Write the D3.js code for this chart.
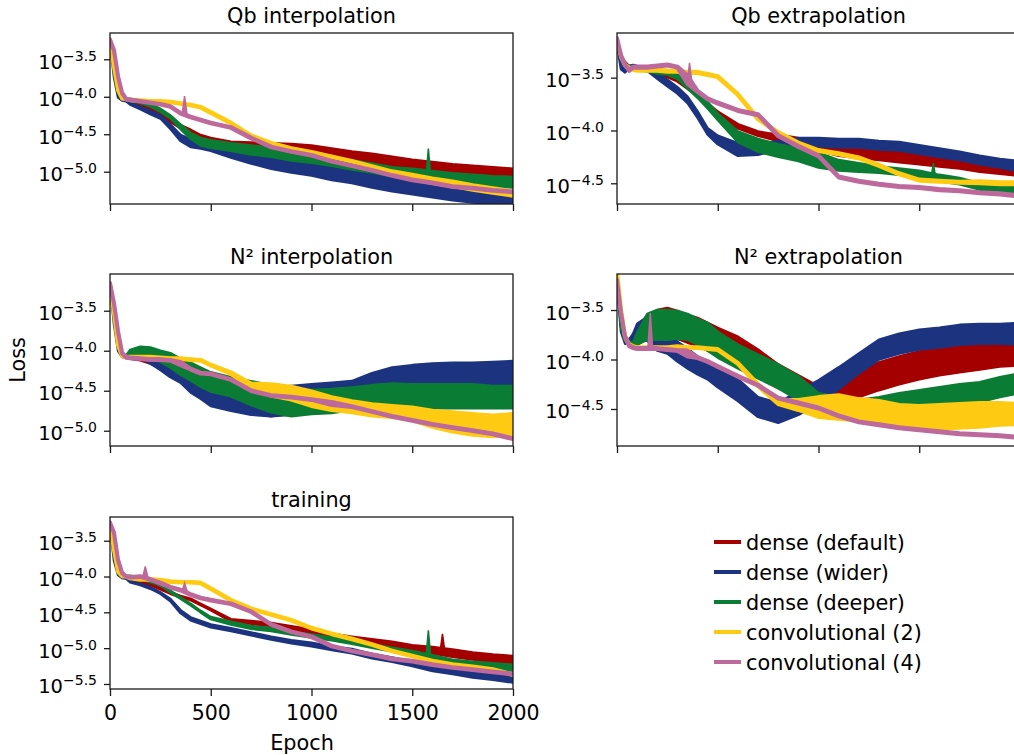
<!DOCTYPE html>
<html>
<head>
<meta charset="utf-8">
<script src="https://cdn.jsdelivr.net/npm/d3@7"></script>
<style>
  body { margin: 0; background: #fff; }
  text { font-family: "DejaVu Sans", sans-serif; fill: #000; }
</style>
</head>
<body>
<div id="chart"></div>
<script>
const epochs = [0, 20, 40, 60, 80, 100, 150, 200, 250, 300, 350, 400, 450, 500, 600, 700, 800, 900, 1000, 1100, 1200, 1300, 1400, 1500, 1600, 1700, 1800, 1900, 2000];
const seriesNames = ["dense (default)", "dense (wider)", "dense (deeper)", "convolutional (2)", "convolutional (4)"];
const panelTitles = ["Qb interpolation", "Qb extrapolation", "N\u00b2 interpolation", "N\u00b2 extrapolation", "training"];
const xTicks = [0, 500, 1000, 1500, 2000];
const yTicks = [
  [-3.5, -4.0, -4.5, -5.0],
  [-3.5, -4.0, -4.5],
  [-3.5, -4.0, -4.5, -5.0],
  [-3.5, -4.0, -4.5],
  [-3.5, -4.0, -4.5, -5.0, -5.5]
];

// log10(loss): middle of each band, order = seriesNames
const qbInterpLog = [
  [-3.24,-3.60,-3.91,-4.02,-4.04,-4.05,-4.10,-4.15,-4.24,-4.32,-4.40,-4.46,-4.53,-4.58,-4.64,-4.67,-4.69,-4.70,-4.73,-4.76,-4.80,-4.83,-4.87,-4.91,-4.94,-4.97,-4.99,-5.01,-5.03],
  [-3.26,-3.73,-4.00,-4.04,-4.05,-4.09,-4.15,-4.21,-4.27,-4.40,-4.55,-4.62,-4.64,-4.67,-4.75,-4.82,-4.89,-4.93,-4.97,-5.02,-5.06,-5.12,-5.16,-5.20,-5.24,-5.28,-5.31,-5.33,-5.35],
  [-3.24,-3.64,-3.93,-4.02,-4.03,-4.04,-4.07,-4.11,-4.18,-4.27,-4.40,-4.52,-4.60,-4.63,-4.67,-4.71,-4.74,-4.79,-4.82,-4.86,-4.91,-4.95,-5.00,-5.03,-5.06,-5.09,-5.11,-5.13,-5.14],
  [-3.24,-3.60,-3.91,-4.02,-4.03,-4.04,-4.05,-4.06,-4.06,-4.07,-4.09,-4.11,-4.14,-4.21,-4.35,-4.52,-4.62,-4.69,-4.74,-4.80,-4.86,-4.93,-5.00,-5.06,-5.12,-5.16,-5.21,-5.25,-5.29],
  [-3.24,-3.38,-3.73,-3.95,-4.03,-4.04,-4.06,-4.08,-4.10,-4.13,-4.22,-4.27,-4.31,-4.35,-4.41,-4.55,-4.67,-4.73,-4.78,-4.86,-4.92,-4.98,-5.05,-5.11,-5.15,-5.20,-5.22,-5.25,-5.27]
];
// half width of the noisy band, in decades
const qbInterpSpread = [
  [0.01,0.01,0.01,0.01,0.01,0.015,0.015,0.015,0.015,0.015,0.02,0.02,0.02,0.03,0.04,0.06,0.07,0.07,0.08,0.07,0.07,0.07,0.07,0.07,0.07,0.07,0.07,0.07,0.07],
  [0.01,0.01,0.01,0.01,0.01,0.015,0.015,0.02,0.02,0.03,0.04,0.05,0.05,0.05,0.06,0.07,0.07,0.08,0.08,0.09,0.09,0.09,0.1,0.1,0.1,0.1,0.1,0.1,0.1],
  [0.01,0.01,0.01,0.01,0.01,0.015,0.015,0.02,0.02,0.02,0.03,0.04,0.05,0.05,0.05,0.06,0.06,0.06,0.06,0.06,0.06,0.06,0.06,0.07,0.07,0.07,0.07,0.07,0.07],
  [0.005,0.005,0.005,0.005,0.005,0.005,0.005,0.005,0.005,0.005,0.005,0.005,0.005,0.005,0.005,0.005,0.005,0.005,0.005,0.005,0.005,0.005,0.005,0.02,0.03,0.03,0.03,0.03,0.03],
  [0.005,0.005,0.005,0.005,0.005,0.005,0.005,0.005,0.005,0.005,0.005,0.005,0.005,0.005,0.005,0.005,0.005,0.005,0.005,0.005,0.005,0.005,0.005,0.005,0.005,0.005,0.005,0.005,0.005]
];

const qbExtrapLog = [
  [-3.14,-3.30,-3.36,-3.40,-3.40,-3.41,-3.42,-3.44,-3.48,-3.52,-3.59,-3.66,-3.76,-3.84,-3.96,-4.03,-4.07,-4.11,-4.14,-4.19,-4.21,-4.23,-4.25,-4.27,-4.29,-4.31,-4.34,-4.36,-4.38],
  [-3.18,-3.40,-3.43,-3.40,-3.39,-3.40,-3.42,-3.48,-3.55,-3.62,-3.71,-3.85,-4.01,-4.09,-4.18,-4.18,-4.14,-4.11,-4.11,-4.12,-4.12,-4.14,-4.15,-4.18,-4.21,-4.24,-4.28,-4.31,-4.34],
  [-3.14,-3.30,-3.38,-3.40,-3.41,-3.42,-3.43,-3.44,-3.45,-3.49,-3.57,-3.66,-3.76,-3.87,-4.06,-4.14,-4.19,-4.23,-4.28,-4.33,-4.35,-4.37,-4.39,-4.41,-4.45,-4.48,-4.53,-4.55,-4.57],
  [-3.14,-3.30,-3.38,-3.41,-3.42,-3.43,-3.43,-3.43,-3.44,-3.44,-3.45,-3.45,-3.47,-3.49,-3.66,-3.89,-4.02,-4.12,-4.19,-4.22,-4.26,-4.33,-4.41,-4.47,-4.48,-4.49,-4.49,-4.50,-4.50],
  [-3.13,-3.29,-3.38,-3.43,-3.40,-3.40,-3.40,-3.39,-3.38,-3.40,-3.52,-3.63,-3.70,-3.74,-3.81,-3.85,-4.05,-4.15,-4.24,-4.44,-4.48,-4.51,-4.53,-4.54,-4.56,-4.57,-4.59,-4.60,-4.62]
];
const qbExtrapSpread = [
  [0.01,0.01,0.01,0.01,0.01,0.01,0.01,0.015,0.015,0.015,0.015,0.015,0.015,0.02,0.02,0.02,0.03,0.04,0.05,0.05,0.05,0.05,0.05,0.05,0.05,0.05,0.05,0.05,0.05],
  [0.01,0.02,0.02,0.01,0.01,0.01,0.015,0.03,0.03,0.03,0.03,0.03,0.03,0.04,0.06,0.05,0.04,0.04,0.04,0.04,0.04,0.04,0.04,0.04,0.04,0.04,0.04,0.04,0.05],
  [0.01,0.01,0.01,0.01,0.01,0.01,0.01,0.02,0.02,0.02,0.03,0.03,0.03,0.03,0.05,0.06,0.06,0.06,0.07,0.05,0.04,0.03,0.03,0.03,0.03,0.03,0.03,0.03,0.04],
  [0.005,0.005,0.005,0.005,0.005,0.005,0.005,0.005,0.005,0.005,0.005,0.005,0.005,0.005,0.005,0.005,0.005,0.005,0.005,0.005,0.005,0.005,0.005,0.005,0.005,0.005,0.01,0.01,0.01],
  [0.005,0.005,0.005,0.005,0.005,0.005,0.005,0.005,0.005,0.005,0.04,0.005,0.005,0.005,0.005,0.005,0.005,0.005,0.005,0.005,0.005,0.005,0.005,0.005,0.005,0.005,0.005,0.005,0.005]
];

const n2InterpLog = [
  [-3.16,-3.53,-3.91,-4.06,-4.08,-4.07,-4.07,-4.08,-4.12,-4.18,-4.24,-4.33,-4.43,-4.49,-4.60,-4.66,-4.70,-4.64,-4.62,-4.58,-4.58,-4.58,-4.57,-4.56,-4.56,-4.54,-4.53,-4.53,-4.53],
  [-3.16,-3.66,-3.99,-4.07,-4.08,-4.06,-4.03,-4.08,-4.14,-4.20,-4.26,-4.37,-4.45,-4.53,-4.60,-4.64,-4.64,-4.62,-4.58,-4.54,-4.51,-4.41,-4.35,-4.32,-4.31,-4.31,-4.32,-4.32,-4.32],
  [-3.16,-3.53,-3.93,-4.06,-4.07,-4.03,-4.01,-4.03,-4.07,-4.12,-4.20,-4.26,-4.33,-4.39,-4.45,-4.53,-4.60,-4.64,-4.64,-4.63,-4.60,-4.58,-4.57,-4.58,-4.57,-4.57,-4.57,-4.58,-4.58],
  [-3.16,-3.53,-3.93,-4.06,-4.08,-4.08,-4.08,-4.08,-4.09,-4.10,-4.10,-4.11,-4.12,-4.18,-4.28,-4.44,-4.49,-4.53,-4.60,-4.66,-4.70,-4.74,-4.76,-4.79,-4.85,-4.89,-4.92,-4.94,-4.92],
  [-3.16,-3.41,-3.76,-4.03,-4.08,-4.09,-4.10,-4.11,-4.11,-4.12,-4.16,-4.23,-4.28,-4.29,-4.36,-4.50,-4.56,-4.58,-4.61,-4.66,-4.70,-4.76,-4.82,-4.87,-4.92,-4.96,-5.00,-5.04,-5.10]
];
const n2InterpSpread = [
  [0.01,0.01,0.01,0.01,0.01,0.03,0.05,0.08,0.1,0.12,0.12,0.12,0.12,0.12,0.12,0.12,0.12,0.12,0.12,0.12,0.12,0.12,0.13,0.14,0.15,0.16,0.16,0.16,0.16],
  [0.01,0.01,0.01,0.01,0.01,0.04,0.06,0.08,0.1,0.13,0.14,0.15,0.15,0.16,0.15,0.16,0.18,0.18,0.16,0.14,0.13,0.13,0.14,0.14,0.15,0.16,0.17,0.18,0.19],
  [0.01,0.01,0.01,0.01,0.01,0.04,0.06,0.07,0.07,0.09,0.1,0.11,0.12,0.12,0.12,0.15,0.17,0.18,0.15,0.15,0.14,0.15,0.16,0.16,0.15,0.15,0.15,0.14,0.14],
  [0.005,0.005,0.005,0.005,0.005,0.005,0.005,0.005,0.005,0.005,0.005,0.005,0.005,0.005,0.01,0.03,0.07,0.08,0.09,0.08,0.07,0.07,0.07,0.08,0.1,0.12,0.13,0.13,0.13],
  [0.005,0.005,0.005,0.005,0.005,0.005,0.005,0.005,0.005,0.005,0.02,0.005,0.005,0.005,0.005,0.005,0.005,0.005,0.005,0.02,0.005,0.005,0.005,0.005,0.005,0.005,0.005,0.005,0.005]
];

const n2ExtrapLog = [
  [-3.20,-3.60,-3.79,-3.82,-3.84,-3.77,-3.67,-3.64,-3.62,-3.65,-3.69,-3.72,-3.77,-3.82,-3.92,-4.04,-4.17,-4.27,-4.38,-4.36,-4.26,-4.17,-4.11,-4.06,-4.02,-4.00,-3.97,-3.94,-3.93],
  [-3.23,-3.70,-3.82,-3.82,-3.79,-3.72,-3.69,-3.79,-3.84,-3.92,-3.99,-4.06,-4.11,-4.19,-4.31,-4.48,-4.54,-4.44,-4.33,-4.19,-4.04,-3.90,-3.84,-3.80,-3.78,-3.75,-3.74,-3.74,-3.74],
  [-3.20,-3.67,-3.80,-3.83,-3.84,-3.79,-3.67,-3.65,-3.65,-3.65,-3.67,-3.72,-3.77,-3.85,-3.97,-4.07,-4.17,-4.29,-4.46,-4.49,-4.51,-4.48,-4.44,-4.41,-4.38,-4.35,-4.33,-4.28,-4.24],
  [-3.11,-3.50,-3.77,-3.85,-3.87,-3.88,-3.88,-3.88,-3.88,-3.87,-3.88,-3.88,-3.89,-3.90,-4.04,-4.26,-4.43,-4.46,-4.48,-4.48,-4.51,-4.53,-4.56,-4.58,-4.58,-4.57,-4.56,-4.55,-4.55],
  [-3.20,-3.53,-3.77,-3.86,-3.88,-3.89,-3.89,-3.89,-3.90,-3.91,-3.94,-3.98,-4.02,-4.07,-4.17,-4.26,-4.39,-4.44,-4.49,-4.57,-4.63,-4.66,-4.69,-4.71,-4.73,-4.75,-4.76,-4.77,-4.79]
];
const n2ExtrapSpread = [
  [0.01,0.01,0.02,0.02,0.02,0.08,0.12,0.14,0.14,0.14,0.14,0.14,0.14,0.14,0.15,0.14,0.12,0.11,0.11,0.11,0.12,0.14,0.14,0.14,0.14,0.13,0.13,0.13,0.13],
  [0.01,0.02,0.02,0.02,0.05,0.08,0.12,0.12,0.1,0.1,0.1,0.09,0.09,0.09,0.11,0.1,0.1,0.12,0.12,0.11,0.1,0.1,0.1,0.1,0.1,0.1,0.1,0.1,0.11],
  [0.01,0.01,0.01,0.01,0.01,0.06,0.13,0.15,0.15,0.14,0.13,0.13,0.14,0.13,0.12,0.12,0.12,0.12,0.12,0.11,0.1,0.1,0.1,0.1,0.1,0.1,0.1,0.1,0.1],
  [0.005,0.005,0.005,0.005,0.005,0.005,0.005,0.005,0.005,0.005,0.005,0.005,0.005,0.005,0.005,0.01,0.02,0.05,0.1,0.12,0.11,0.11,0.1,0.11,0.12,0.12,0.12,0.11,0.1],
  [0.005,0.005,0.005,0.005,0.005,0.005,0.005,0.005,0.005,0.005,0.03,0.005,0.005,0.005,0.005,0.005,0.005,0.005,0.005,0.005,0.005,0.005,0.005,0.005,0.005,0.005,0.005,0.005,0.005]
];

const trainingLog = [
  [-3.25,-3.63,-3.93,-4.00,-4.01,-4.02,-4.07,-4.11,-4.17,-4.23,-4.28,-4.32,-4.39,-4.46,-4.61,-4.64,-4.67,-4.72,-4.77,-4.83,-4.87,-4.91,-4.95,-5.00,-5.03,-5.07,-5.11,-5.14,-5.16],
  [-3.28,-3.77,-3.97,-4.01,-4.02,-4.07,-4.11,-4.16,-4.23,-4.33,-4.49,-4.59,-4.64,-4.69,-4.74,-4.80,-4.86,-4.91,-4.95,-5.00,-5.04,-5.11,-5.16,-5.22,-5.28,-5.32,-5.37,-5.40,-5.44],
  [-3.25,-3.67,-3.95,-3.99,-4.00,-4.00,-4.02,-4.07,-4.11,-4.21,-4.30,-4.39,-4.49,-4.58,-4.65,-4.71,-4.74,-4.79,-4.83,-4.87,-4.92,-4.97,-5.02,-5.07,-5.15,-5.21,-5.24,-5.26,-5.28],
  [-3.25,-3.63,-3.93,-3.99,-4.00,-4.02,-4.04,-4.04,-4.05,-4.07,-4.08,-4.08,-4.09,-4.17,-4.33,-4.45,-4.53,-4.61,-4.72,-4.80,-4.87,-4.95,-5.04,-5.11,-5.18,-5.23,-5.26,-5.30,-5.37],
  [-3.25,-3.39,-3.77,-3.95,-4.00,-4.01,-4.00,-4.04,-4.09,-4.15,-4.19,-4.25,-4.30,-4.33,-4.38,-4.49,-4.67,-4.77,-4.84,-4.97,-5.04,-5.09,-5.15,-5.18,-5.23,-5.27,-5.30,-5.33,-5.36]
];
const trainingSpread = [
  [0.01,0.01,0.01,0.01,0.01,0.01,0.01,0.01,0.01,0.01,0.01,0.01,0.01,0.01,0.015,0.02,0.02,0.025,0.03,0.03,0.03,0.035,0.04,0.04,0.045,0.05,0.05,0.05,0.05],
  [0.01,0.01,0.01,0.01,0.01,0.01,0.01,0.01,0.01,0.015,0.02,0.02,0.02,0.02,0.02,0.02,0.02,0.02,0.025,0.025,0.03,0.03,0.03,0.03,0.04,0.04,0.04,0.04,0.04],
  [0.01,0.01,0.01,0.01,0.01,0.01,0.01,0.01,0.01,0.01,0.01,0.01,0.01,0.015,0.02,0.02,0.02,0.02,0.02,0.02,0.02,0.025,0.025,0.03,0.05,0.05,0.05,0.05,0.05],
  [0.005,0.005,0.005,0.005,0.005,0.005,0.005,0.005,0.005,0.005,0.005,0.005,0.005,0.005,0.005,0.005,0.005,0.005,0.005,0.005,0.005,0.005,0.005,0.005,0.005,0.005,0.005,0.005,0.005],
  [0.005,0.005,0.005,0.005,0.005,0.005,0.005,0.005,0.005,0.005,0.005,0.005,0.005,0.005,0.005,0.005,0.005,0.005,0.005,0.005,0.005,0.005,0.005,0.005,0.005,0.005,0.005,0.005,0.005]
];

// isolated spikes: [panel, series, epoch, log10 base, log10 top]
const spikes = [
  [0, 4, 370, -4.23, -3.99],
  [0, 2, 1580, -5.06, -4.69],
  [1, 4, 360, -3.55, -3.36],
  [1, 2, 1570, -4.45, -4.31],
  [3, 4, 165, -3.89, -3.53],
  [4, 4, 175, -4.00, -3.86],
  [4, 4, 370, -4.20, -4.09],
  [4, 2, 1580, -5.12, -4.75],
  [4, 0, 1650, -5.05, -4.80]
];

const panelLogs = [qbInterpLog, qbExtrapLog, n2InterpLog, n2ExtrapLog, trainingLog];
const panelSpreads = [qbInterpSpread, qbExtrapSpread, n2InterpSpread, n2ExtrapSpread, trainingSpread];

// styling / layout
const colors = ["#a40000", "#1c3380", "#0b7c34", "#ffcb12", "#bd699c"];
const lineWidths = [2.5, 2.5, 2.5, 4, 4];
const panelBoxes = [
  { x: 110, y: 33,  w: 403, h: 171, yDom: [-5.431, -3.149] },
  { x: 617, y: 33,  w: 403, h: 171, yDom: [-4.696, -3.077] },
  { x: 110, y: 274, w: 403, h: 172, yDom: [-5.191, -3.041] },
  { x: 617, y: 274, w: 403, h: 172, yDom: [-4.874, -3.136] },
  { x: 110, y: 517, w: 403, h: 172, yDom: [-5.570, -3.169] }
];

const width = 1014, height = 755;
const svg = d3.select("#chart").append("svg")
  .attr("width", width)
  .attr("height", height);

const fmt = d3.format(".1f");

panelBoxes.forEach((b, p) => {
  const g = svg.append("g").attr("transform", `translate(${b.x},${b.y})`);

  const x = d3.scaleLinear().domain([0, 2000]).range([0, b.w]);
  const y = d3.scaleLog()
    .domain([Math.pow(10, b.yDom[0]), Math.pow(10, b.yDom[1])])
    .range([b.h, 0]);

  g.append("clipPath").attr("id", "clip" + p)
    .append("rect").attr("width", b.w).attr("height", b.h);

  const plot = g.append("g").attr("clip-path", `url(#clip${p})`);

  panelLogs[p].forEach((vals, s) => {
    const spread = panelSpreads[p][s];
    const area = d3.area()
      .x((d, i) => x(epochs[i]))
      .y0((d, i) => y(Math.pow(10, vals[i] - spread[i])))
      .y1((d, i) => y(Math.pow(10, vals[i] + spread[i])));
    plot.append("path")
      .datum(vals)
      .attr("d", area)
      .attr("fill", colors[s])
      .attr("stroke", colors[s])
      .attr("stroke-width", lineWidths[s])
      .attr("stroke-linejoin", "round");

    spikes.filter(k => k[0] === p && k[1] === s).forEach(k => {
      const tri = d3.line()([
        [x(k[2] - 12), y(Math.pow(10, k[3]))],
        [x(k[2]), y(Math.pow(10, k[4]))],
        [x(k[2] + 12), y(Math.pow(10, k[3]))]
      ]);
      plot.append("path").attr("d", tri + "Z")
        .attr("fill", colors[s]).attr("stroke", colors[s]).attr("stroke-width", 1.5);
    });
  });

  // frame
  g.append("rect")
    .attr("width", b.w).attr("height", b.h)
    .attr("fill", "none").attr("stroke", "#1a1a1a").attr("stroke-width", 1.3);

  // y axis
  const yAxis = g.append("g")
    .call(d3.axisLeft(y).tickValues(yTicks[p].map(t => Math.pow(10, t))).tickSize(6).tickPadding(7).tickFormat(() => ""));
  yAxis.select(".domain").remove();
  yAxis.selectAll(".tick line").attr("stroke", "#1a1a1a").attr("stroke-width", 1.3);
  yAxis.selectAll(".tick text").each(function (d) {
    const t = d3.select(this).attr("dy", null).attr("y", 9);
    t.append("tspan").attr("font-size", 19.5).text("10");
    t.append("tspan").attr("font-size", 14).attr("dy", -8).text(fmt(Math.log10(d)));
  });

  // x axis
  const xAxis = g.append("g")
    .attr("transform", `translate(0,${b.h})`)
    .call(d3.axisBottom(x).tickValues(xTicks).tickSize(7).tickPadding(9)
      .tickFormat(p === 4 ? d3.format("d") : () => ""));
  xAxis.select(".domain").remove();
  xAxis.selectAll(".tick line").attr("stroke", "#1a1a1a").attr("stroke-width", 1.3);
  xAxis.selectAll(".tick text").attr("font-size", 20.5);

  g.append("text")
    .attr("x", b.w / 2).attr("y", -10)
    .attr("text-anchor", "middle")
    .attr("font-size", 20.8)
    .text(panelTitles[p]);
});

svg.append("text")
  .attr("x", 302).attr("y", 750)
  .attr("text-anchor", "middle")
  .attr("font-size", 20.8)
  .text("Epoch");

svg.append("text")
  .attr("transform", "translate(25,360) rotate(-90)")
  .attr("text-anchor", "middle")
  .attr("font-size", 20.8)
  .text("Loss");

// legend
const legend = svg.append("g").attr("transform", "translate(714,542)");
seriesNames.forEach((name, i) => {
  const row = legend.append("g").attr("transform", `translate(0,${i * 30})`);
  row.append("line")
    .attr("x1", 0).attr("x2", 27)
    .attr("stroke", colors[i]).attr("stroke-width", 4);
  row.append("text")
    .attr("x", 32).attr("y", 7.5)
    .attr("font-size", 20.8)
    .text(name);
});
</script>
</body>
</html>
